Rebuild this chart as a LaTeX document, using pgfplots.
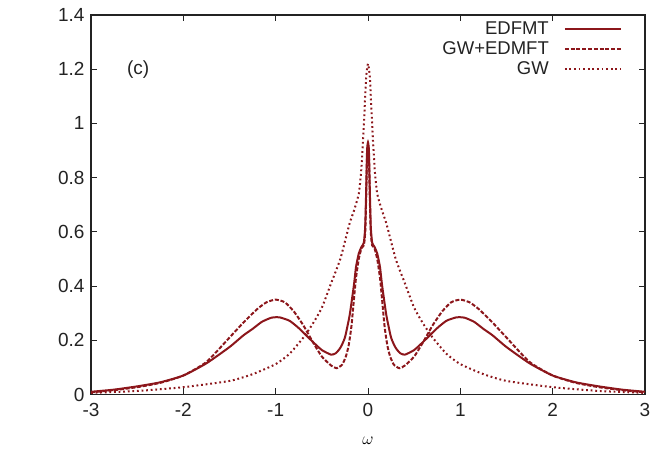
\documentclass[border=0pt]{standalone}
\usepackage{pgfplots}
\pgfplotsset{compat=1.18}
\usepackage{fontspec}
\setmainfont{Liberation Sans}
\definecolor{dred}{RGB}{140,22,27}
\definecolor{axc}{RGB}{35,35,35}
\begin{document}
\begin{tikzpicture}
\useasboundingbox (-91pt,-59.5pt) rectangle (579pt,394.5pt);
\begin{axis}[
  at={(0pt,0pt)}, anchor=south west,
  scale only axis, width=554pt, height=379.5pt,
  xmin=-3, xmax=3, ymin=0, ymax=1.4,
  xtick={-3,-2,-1,0,1,2,3}, ytick={0,0.2,0.4,0.6,0.8,1,1.2,1.4},
  yticklabels={0,0.2,0.4,0.6,0.8,1,1.2,1.4},
  xticklabels={-3,-2,-1,0,1,2,3},
  tick align=inside, major tick length=6pt,
  every tick/.style={axc, line width=0.8pt},
  axis line style={axc, line width=1.1pt},
  tick label style={font=\fontsize{19}{21}\selectfont, text=axc},
  xticklabel style={yshift=-5pt},
  yticklabel style={xshift=-3pt},
  /pgf/number format/assume math mode=true,
  xlabel={$\omega$}, xlabel style={font=\fontsize{19}{21}\selectfont, at={(axis description cs:0.5,0)}, anchor=center, yshift=-46pt},
  legend style={draw=none, fill=none, at={(axis description cs:1,1)}, anchor=north east,
    xshift=-20pt, yshift=-4pt, font=\fontsize{18.5}{20}\selectfont, row sep=3.5pt,
    /tikz/column sep=14pt,
    nodes={inner sep=1pt},
    text=axc},
  legend cell align=right, legend plot pos=right,
  legend image code/.code={\draw[#1] (0pt,0pt) -- (56pt,0pt);},
]
\addplot[dred, line width=2pt, smooth, tension=0.35] coordinates {
(-3,0.01) (-2.75,0.018) (-2.5,0.03) (-2.25,0.045) (-2,0.07) (-1.75,0.115) (-1.5,0.175)
(-1.35,0.218) (-1.25,0.242) (-1.15,0.268) (-1.05,0.283) (-1,0.285) (-0.95,0.284) (-0.85,0.272) (-0.75,0.245) (-0.6,0.195) (-0.5,0.164)
(-0.4,0.147) (-0.35,0.152) (-0.3,0.172) (-0.25,0.21) (-0.2,0.29) (-0.17,0.36) (-0.15,0.41)
(-0.13,0.47) (-0.1,0.52) (-0.07,0.545) (-0.045,0.56) (-0.03,0.62) (-0.02,0.75) (-0.01,0.90) (0,0.93)
(0.01,0.90) (0.02,0.75) (0.03,0.62) (0.045,0.56) (0.07,0.545) (0.1,0.52) (0.13,0.47)
(0.15,0.41) (0.17,0.36) (0.2,0.29) (0.25,0.21) (0.3,0.172) (0.35,0.152) (0.4,0.147)
(0.5,0.164) (0.6,0.195) (0.75,0.245) (0.85,0.272) (0.95,0.284) (1,0.285) (1.05,0.283) (1.15,0.268) (1.25,0.242)
(1.35,0.218) (1.5,0.175) (1.75,0.115) (2,0.07) (2.25,0.045) (2.5,0.03) (2.75,0.018) (3,0.01)
};
\addlegendentry{EDFMT}
\addplot[dred, line width=2pt, dash pattern=on 4pt off 1.8pt, smooth, tension=0.35] coordinates {
(-3,0.008) (-2.75,0.016) (-2.5,0.027) (-2.25,0.043) (-2,0.07) (-1.75,0.12) (-1.5,0.21)
(-1.35,0.265) (-1.2,0.315) (-1.1,0.34) (-1,0.35) (-0.9,0.34) (-0.8,0.305) (-0.7,0.255) (-0.6,0.195) (-0.5,0.14)
(-0.4,0.107) (-0.34,0.097) (-0.28,0.11) (-0.24,0.14) (-0.21,0.18) (-0.18,0.25) (-0.15,0.36)
(-0.13,0.43) (-0.1,0.50) (-0.07,0.54) (-0.045,0.55) (-0.03,0.60) (-0.02,0.72) (-0.01,0.88) (0,0.92)
(0.01,0.88) (0.02,0.72) (0.03,0.60) (0.045,0.55) (0.07,0.54) (0.1,0.50) (0.13,0.43)
(0.15,0.36) (0.18,0.25) (0.21,0.18) (0.24,0.14) (0.28,0.11) (0.34,0.097) (0.4,0.107)
(0.5,0.14) (0.6,0.195) (0.7,0.255) (0.8,0.305) (0.9,0.34) (1,0.35) (1.1,0.34) (1.2,0.315) (1.35,0.265)
(1.5,0.21) (1.75,0.12) (2,0.07) (2.25,0.043) (2.5,0.027) (2.75,0.016) (3,0.008)
};
\addlegendentry{GW+EDMFT}
\addplot[dred, line width=2pt, dash pattern=on 1.8pt off 2.8pt, smooth, tension=0.35] coordinates {
(-3,0.006) (-2.5,0.013) (-2,0.027) (-1.5,0.05) (-1.25,0.075) (-1,0.112) (-0.85,0.15)
(-0.7,0.21) (-0.6,0.26) (-0.5,0.32) (-0.4,0.41) (-0.3,0.50) (-0.2,0.63) (-0.15,0.68)
(-0.1,0.74) (-0.075,0.82) (-0.055,0.93) (-0.04,1.03) (-0.02,1.17) (0,1.22)
(0.02,1.17) (0.04,1.03) (0.055,0.93) (0.075,0.82) (0.1,0.74) (0.15,0.68) (0.2,0.63)
(0.3,0.50) (0.4,0.41) (0.5,0.32) (0.6,0.26) (0.7,0.21) (0.85,0.15) (1,0.112)
(1.25,0.075) (1.5,0.05) (2,0.027) (2.5,0.013) (3,0.006)
};
\addlegendentry{GW}
\node[font=\fontsize{19}{21}\selectfont, text=axc] at (axis cs:-2.49,1.2) {(c)};
\end{axis}
\end{tikzpicture}
\end{document}
